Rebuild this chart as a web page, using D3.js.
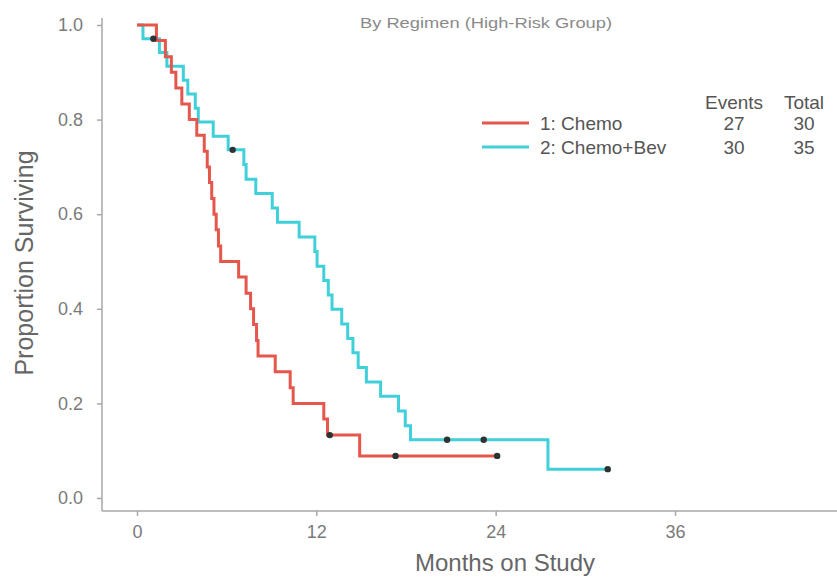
<!DOCTYPE html>
<html>
<head>
<meta charset="utf-8">
<script src="https://cdn.jsdelivr.net/npm/d3@7"></script>
<style>
  body { margin: 0; background: #fff; }
  svg { display: block; font-family: "Liberation Sans", Arial, sans-serif; }
</style>
</head>
<body>
<div id="chart"></div>
<script>
// Kaplan-Meier step data
const chemoTimes = [0, 1.3, 1.9, 2.3, 2.6, 3.0, 3.5, 4.0, 4.5, 4.7, 4.85, 5.0, 5.15, 5.3, 5.45, 5.6,
    6.8, 7.3, 7.6, 7.8, 8.0, 8.1, 9.25, 10.25, 10.45, 12.5, 12.75, 14.9];
const chemoSurv = [1, 0.967, 0.933, 0.9, 0.867, 0.833, 0.8, 0.767, 0.733, 0.7, 0.667, 0.633, 0.6, 0.567, 0.533, 0.5,
    0.467, 0.433, 0.4, 0.367, 0.333, 0.3, 0.267, 0.233, 0.2, 0.167, 0.133, 0.089];
const chemoCensor = [12.9, 17.3, 24.1];

const bevTimes = [0, 0.4, 1.5, 2.0, 3.1, 3.4, 3.9, 4.1, 5.1, 6.1, 7.15, 7.3, 7.95, 9.05, 9.4, 10.85,
    11.9, 12.05, 12.5, 12.8, 13.05, 13.7, 14.1, 14.45, 14.8, 15.35, 16.3, 17.5, 17.95, 18.3, 27.5];
const bevSurv = [1, 0.971, 0.942, 0.913, 0.883, 0.854, 0.824, 0.795, 0.765, 0.736, 0.705, 0.674, 0.644, 0.613, 0.583, 0.552,
    0.521, 0.49, 0.46, 0.429, 0.399, 0.368, 0.337, 0.307, 0.276, 0.245, 0.215, 0.184, 0.153, 0.123, 0.061];
const bevCensor = [1.1, 6.4, 20.75, 23.2, 31.5];

const groupNames = ["1: Chemo", "2: Chemo+Bev"];
const groupEvents = [27, 30];
const groupTotals = [30, 35];
const groupColors = ["#e5574c", "#3fd0da"];

const xTicks = [0, 12, 24, 36];
const yTicks = [0, 0.2, 0.4, 0.6, 0.8, 1.0];

const width = 837;
const height = 580;

const svg = d3.select("#chart")
    .append("svg")
    .attr("width", width)
    .attr("height", height);

const x = d3.scaleLinear().domain([0, 36]).range([137, 675]);
const y = d3.scaleLinear().domain([0, 1]).range([498, 25]);

const axisColor = "#a8a8a8";
const axisLeftX = 102;
const axisBottomY = 511;

// axis lines
svg.append("line")
    .attr("x1", axisLeftX).attr("x2", axisLeftX)
    .attr("y1", 18).attr("y2", axisBottomY)
    .attr("stroke", axisColor).attr("stroke-width", 1.5);
svg.append("line")
    .attr("x1", axisLeftX).attr("x2", width)
    .attr("y1", axisBottomY).attr("y2", axisBottomY)
    .attr("stroke", axisColor).attr("stroke-width", 1.5);

// y axis ticks
const yAxis = svg.append("g")
    .attr("transform", `translate(${axisLeftX},0)`)
    .call(d3.axisLeft(y).tickValues(yTicks).tickFormat(d3.format(".1f")).tickSize(5).tickPadding(14));
yAxis.select(".domain").remove();
yAxis.selectAll(".tick line").attr("stroke", axisColor).attr("stroke-width", 1.5);
yAxis.selectAll(".tick text")
    .attr("fill", "#7a7a7a")
    .style("font-size", "18px")
    .style("font-family", "'Liberation Sans', Arial, sans-serif");

// x axis ticks
const xAxis = svg.append("g")
    .attr("transform", `translate(0,${axisBottomY})`)
    .call(d3.axisBottom(x).tickValues(xTicks).tickSize(5).tickPadding(9));
xAxis.select(".domain").remove();
xAxis.selectAll(".tick line").attr("stroke", axisColor).attr("stroke-width", 1.5);
xAxis.selectAll(".tick text")
    .attr("fill", "#7a7a7a")
    .style("font-size", "18px")
    .style("font-family", "'Liberation Sans', Arial, sans-serif");

// axis titles
svg.append("text")
    .attr("x", 505).attr("y", 571)
    .attr("text-anchor", "middle")
    .attr("fill", "#666")
    .style("font-size", "24px")
    .text("Months on Study");

svg.append("text")
    .attr("transform", "translate(33,263) rotate(-90)")
    .attr("text-anchor", "middle")
    .attr("fill", "#666")
    .style("font-size", "25px")
    .text("Proportion Surviving");

// subtitle
svg.append("text")
    .attr("x", 486).attr("y", 28)
    .attr("text-anchor", "middle")
    .attr("fill", "#8a8a8a")
    .attr("textLength", 252)
    .attr("lengthAdjust", "spacingAndGlyphs")
    .style("font-size", "15px")
    .text("By Regimen (High-Risk Group)");

// survival curves
const stepLine = d3.line()
    .x(d => x(d[0]))
    .y(d => y(d[1]))
    .curve(d3.curveStepAfter);

function survAt(times, surv, t) {
    let s = surv[0];
    times.forEach((tt, i) => { if (tt <= t) s = surv[i]; });
    return s;
}

const groups = [
    { times: chemoTimes, surv: chemoSurv, censor: chemoCensor, color: groupColors[0] },
    { times: bevTimes, surv: bevSurv, censor: bevCensor, color: groupColors[1] }
];

groups.slice().reverse().forEach(g => {
    const pts = g.times.map((t, i) => [t, g.surv[i]]);
    const tEnd = d3.max(g.censor);
    pts.push([tEnd, g.surv[g.surv.length - 1]]);
    svg.append("path")
        .datum(pts)
        .attr("d", stepLine)
        .attr("fill", "none")
        .attr("stroke", g.color)
        .attr("stroke-width", 3);
});

groups.forEach(g => {
    svg.append("g").selectAll("circle")
        .data(g.censor)
        .enter()
        .append("circle")
        .attr("cx", d => x(d))
        .attr("cy", d => y(survAt(g.times, g.surv, d)))
        .attr("r", 3.2)
        .attr("fill", "#2b3333");
});

// legend
const legend = svg.append("g");
legend.append("text")
    .attr("x", 734).attr("y", 102)
    .attr("text-anchor", "middle").attr("dominant-baseline", "central")
    .attr("fill", "#555").style("font-size", "19px")
    .text("Events");
legend.append("text")
    .attr("x", 804).attr("y", 102)
    .attr("text-anchor", "middle").attr("dominant-baseline", "central")
    .attr("fill", "#555").style("font-size", "19px")
    .text("Total");

groupNames.forEach((name, i) => {
    const ly = 123 + i * 24;
    legend.append("line")
        .attr("x1", 482).attr("x2", 529)
        .attr("y1", ly).attr("y2", ly)
        .attr("stroke", groupColors[i]).attr("stroke-width", 3);
    legend.append("text")
        .attr("x", 540).attr("y", ly)
        .attr("dominant-baseline", "central")
        .attr("fill", "#555").style("font-size", "19px")
        .text(name);
    legend.append("text")
        .attr("x", 734).attr("y", ly)
        .attr("text-anchor", "middle").attr("dominant-baseline", "central")
        .attr("fill", "#555").style("font-size", "19px")
        .text(groupEvents[i]);
    legend.append("text")
        .attr("x", 804).attr("y", ly)
        .attr("text-anchor", "middle").attr("dominant-baseline", "central")
        .attr("fill", "#555").style("font-size", "19px")
        .text(groupTotals[i]);
});
</script>
</body>
</html>
